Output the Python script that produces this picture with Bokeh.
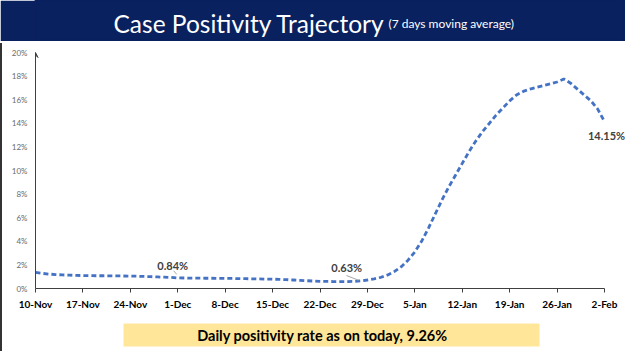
import pandas as pd
from bokeh.plotting import figure
from bokeh.layouts import column, row
from bokeh.models import (FixedTicker, PrintfTickFormatter, Label, BoxAnnotation,
                          Arrow, VeeHead)
from bokeh.embed import file_html
from bokeh.resources import INLINE

# ---------------- data ----------------
start_date = "2021-11-10"
positivity = [
    # Nov 10 - Nov 30
    1.36, 1.28, 1.22, 1.18, 1.15, 1.13, 1.11, 1.10, 1.09, 1.08, 1.08,
    1.07, 1.07, 1.06, 1.05, 1.04, 1.02, 1.00, 0.98, 0.96, 0.94,
    # Dec 1 - Dec 31
    0.90, 0.89, 0.88, 0.88, 0.87, 0.87, 0.86, 0.86, 0.85, 0.84,
    0.83, 0.82, 0.81, 0.80, 0.79, 0.77, 0.75, 0.72, 0.69, 0.66,
    0.63, 0.61, 0.60, 0.59, 0.59, 0.59, 0.60, 0.65, 0.72, 0.82, 0.95,
    # Jan 1 - Jan 31
    1.15, 1.45, 1.85, 2.40, 3.10, 4.00, 5.10, 6.30, 7.50, 8.60,
    9.60, 10.60, 11.60, 12.50, 13.30, 14.00, 14.70, 15.30, 15.90, 16.40,
    16.70, 16.90, 17.05, 17.20, 17.35, 17.50, 17.75, 17.40, 16.90, 16.40,
    15.90,
    # Feb 1 - Feb 2
    15.20, 14.15,
]
dates = pd.date_range(start_date, periods=len(positivity), freq="D")

tick_labels = ["10-Nov", "17-Nov", "24-Nov", "1-Dec", "8-Dec", "15-Dec", "22-Dec",
               "29-Dec", "5-Jan", "12-Jan", "19-Jan", "26-Jan", "2-Feb"]
tick_dates = pd.date_range(start_date, periods=len(tick_labels), freq="7D")
y_ticks = [0, 2, 4, 6, 8, 10, 12, 14, 16, 18, 20]

callout_dates = ["2021-12-01", "2021-12-28", "2022-02-02"]
callout_texts = ["0.84%", "0.63%", "14.15%"]

title_text = "Case Positivity Trajectory"
subtitle_text = "(7 days moving average)"
footer_text = "Daily positivity rate as on today, 9.26%"

# ---------------- styles ----------------
NAVY = "#0a215f"
BLUE = "#4472c4"
FONT = "Lato"
W = 625
LEFT = 35          # absolute x of the plot frame's left edge
EDGE = 2           # width of the dark left border strip


def ms(ts):
    return int(pd.Timestamp(ts).value // 10**6)


def blank(width, height, color, left):
    fig = figure(width=width, height=height, x_range=(LEFT, W), y_range=(0, height),
                 toolbar_location=None, output_backend="svg",
                 min_border_left=left, min_border_right=0, min_border_top=0,
                 min_border_bottom=0, x_axis_location=None, y_axis_location=None)
    fig.grid.visible = False
    fig.outline_line_color = color
    fig.outline_line_width = 2
    fig.background_fill_color = color
    fig.border_fill_color = color
    return fig


# ---------------- header ----------------
h = blank(W, 41, NAVY, LEFT)
h.add_layout(Label(x=113, y=18, text=title_text, text_color="white",
                   text_font=FONT, text_font_size="24.5px",
                   text_baseline="alphabetic", text_align="left"))
h.add_layout(Label(x=388, y=18, text=subtitle_text, text_color="white",
                   text_font=FONT, text_font_size="12px",
                   text_baseline="alphabetic", text_align="left"))

rule = blank(W, 2, "#a0a0a0", LEFT)

# ---------------- main chart ----------------
x_end = dates[-1] + pd.Timedelta(days=3.1)
p = figure(width=W - EDGE, height=272, x_axis_type="datetime",
           x_range=(dates[0].to_pydatetime(), x_end.to_pydatetime()),
           y_range=(0, 20), toolbar_location=None, output_backend="svg",
           min_border_left=LEFT - EDGE, min_border_right=0, min_border_top=9,
           min_border_bottom=27)
p.grid.visible = False
p.outline_line_color = None
p.background_fill_color = "white"
p.border_fill_color = "white"

p.line(dates, positivity, line_color=BLUE, line_width=2.8, line_dash="5 3")

tick_ms = [ms(t) for t in tick_dates]
p.xaxis.bounds = (ms(dates[0]), ms(dates[-1]))
p.xaxis.ticker = FixedTicker(ticks=tick_ms)
p.xaxis.major_label_overrides = {t: lab for t, lab in zip(tick_ms, tick_labels)}
p.xaxis.major_label_text_font = FONT
p.xaxis.major_label_text_font_style = "bold"
p.xaxis.major_label_text_font_size = "10px"
p.xaxis.major_label_text_color = "#000000"
p.xaxis.major_tick_out = 4
p.xaxis.major_tick_in = 0
p.xaxis.minor_tick_out = 0
p.xaxis.minor_tick_in = 0
p.xaxis.major_label_standoff = 5
p.xaxis.axis_line_color = "#404040"
p.xaxis.major_tick_line_color = "#404040"

p.yaxis.ticker = FixedTicker(ticks=y_ticks)
p.yaxis.formatter = PrintfTickFormatter(format="%d%%")
p.yaxis.major_label_text_font = FONT
p.yaxis.major_label_text_font_size = "8px"
p.yaxis.major_label_text_color = "#6a6a6a"
p.yaxis.major_tick_out = 0
p.yaxis.major_tick_in = 0
p.yaxis.minor_tick_out = 0
p.yaxis.minor_tick_in = 0
p.yaxis.major_label_standoff = 8
p.yaxis.axis_line_color = "#404040"

x0 = dates[0].to_pydatetime()
p.add_layout(Arrow(end=VeeHead(size=5, line_color="#404040", fill_color="#404040", line_width=1),
                   x_start=x0, y_start=19.0, x_end=x0, y_end=20.0,
                   line_color="#404040", line_width=1))

# callouts anchored at the series values
offsets = [(-5, 12), (-14, 13), (2, -14)]
leader = [(-0.6, 0.6, -0.15, 0.3), (-2.1, 0.45, -0.3, 0.05), None]
for d, txt, (dx, dy), ld in zip(callout_dates, callout_texts, offsets, leader):
    ts = pd.Timestamp(d)
    val = positivity[dates.get_loc(ts)]
    p.add_layout(Label(x=ts.to_pydatetime(), y=val, text=txt, x_offset=dx, y_offset=dy,
                       text_font=FONT, text_font_style="bold", text_font_size="11px",
                       text_color="#404040", text_align="center", text_baseline="middle"))
    if ld is not None:
        p.segment(x0=[ts + pd.Timedelta(days=ld[0])], y0=[val + ld[1]],
                  x1=[ts + pd.Timedelta(days=ld[2])], y1=[val + ld[3]],
                  line_color="#a6a6a6", line_width=1)

# ---------------- footer ----------------
f = blank(W - EDGE, 36, "white", LEFT - EDGE)
f.outline_line_color = None
f.add_layout(BoxAnnotation(left=123, right=539, bottom=5, top=28,
                           fill_color="#ffe699", fill_alpha=1, line_color=None))
f.add_layout(Label(x=322, y=16, text=footer_text, text_font=FONT,
                   text_font_style="bold", text_font_size="14.5px", text_color="#000000",
                   text_align="center", text_baseline="middle"))

# dark left border of the chart box
strip = figure(width=EDGE, height=272 + 36, toolbar_location=None, output_backend="svg",
               min_border=0, x_axis_location=None, y_axis_location=None)
strip.grid.visible = False
strip.outline_line_color = "#333333"
strip.outline_line_width = 2
strip.background_fill_color = "#333333"
strip.border_fill_color = "#333333"

layout = column(h, rule, row(strip, column(p, f, spacing=0), spacing=0), spacing=0)
open("out.html", "w").write(file_html(layout, INLINE))
